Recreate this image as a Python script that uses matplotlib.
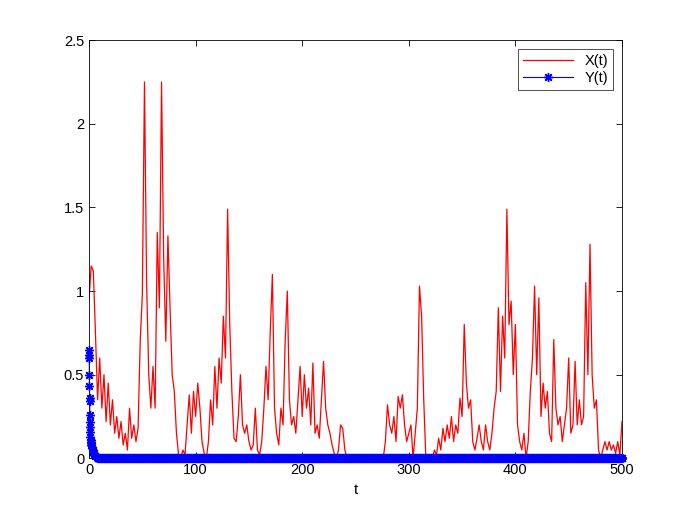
import numpy as np
import matplotlib
matplotlib.use("Agg")
import matplotlib.pyplot as plt

plt.rcParams['font.family'] = ['Liberation Sans', 'DejaVu Sans']

# X(t), one value every 2 time units (t = 0 .. 500)
x_step = 2
x_vals = [
    0.95, 1.15, 1.12, 0.75, 0.35, 0.60, 0.30, 0.50, 0.22, 0.45,
    0.20, 0.35, 0.15, 0.25, 0.12, 0.22, 0.08, 0.15, 0.05, 0.30,
    0.12, 0.20, 0.10, 0.18, 0.70, 0.98, 2.25, 1.05, 0.50, 0.30,
    0.55, 0.30, 1.35, 0.90, 2.25, 1.20, 0.70, 1.33, 0.90, 0.50,
    0.40, 0.15, 0.02, 0.00, 0.05, 0.02, 0.20, 0.38, 0.15, 0.40,
    0.25, 0.45, 0.30, 0.10, 0.03, 0.00, 0.10, 0.35, 0.20, 0.55,
    0.30, 0.60, 0.45, 0.85, 0.60, 1.49, 0.80, 0.40, 0.12, 0.10,
    0.25, 0.50, 0.20, 0.15, 0.20, 0.10, 0.05, 0.08, 0.30, 0.05,
    0.02, 0.10, 0.30, 0.55, 0.35, 0.76, 1.10, 0.30, 0.15, 0.08,
    0.30, 0.20, 0.70, 1.00, 0.35, 0.20, 0.25, 0.15, 0.35, 0.55,
    0.25, 0.50, 0.30, 0.42, 0.20, 0.57, 0.15, 0.20, 0.12, 0.35,
    0.58, 0.30, 0.20, 0.15, 0.08, 0.03, 0.00, 0.05, 0.20, 0.18,
    0.05, 0.00, 0.00, 0.00, 0.00, 0.00, 0.00, 0.00, 0.00, 0.00,
    0.00, 0.00, 0.00, 0.00, 0.00, 0.00, 0.00, 0.00, 0.00, 0.10,
    0.32, 0.20, 0.15, 0.25, 0.10, 0.37, 0.30, 0.38, 0.20, 0.10,
    0.15, 0.20, 0.00, 0.15, 0.30, 1.03, 0.85, 0.35, 0.00, 0.00,
    0.02, 0.00, 0.05, 0.02, 0.12, 0.05, 0.18, 0.10, 0.20, 0.12,
    0.25, 0.10, 0.20, 0.15, 0.36, 0.25, 0.80, 0.45, 0.30, 0.35,
    0.10, 0.05, 0.12, 0.20, 0.10, 0.05, 0.20, 0.10, 0.05, 0.15,
    0.30, 0.40, 0.90, 0.40, 0.85, 0.60, 1.49, 0.80, 0.94, 0.50,
    0.80, 0.20, 0.10, 0.05, 0.15, 0.00, 0.10, 0.40, 0.60, 1.03,
    0.50, 0.96, 0.25, 0.45, 0.30, 0.40, 0.15, 0.10, 0.71, 0.30,
    0.20, 0.25, 0.10, 0.20, 0.30, 0.60, 0.15, 0.20, 0.58, 0.20,
    0.35, 0.20, 0.25, 1.05, 0.50, 1.28, 0.50, 0.30, 0.35, 0.05,
    0.00, 0.05, 0.10, 0.05, 0.10, 0.05, 0.08, 0.03, 0.10, 0.02,
    0.22,
]
x_t = np.arange(len(x_vals)) * x_step

# Y(t): fast decay right after t = 0, then flat at zero
y_head_t = [0, 0.1, 0.2, 0.3, 0.4, 0.5, 0.6, 0.7, 0.8, 0.9, 1.0, 1.2, 1.4,
            1.6, 1.8, 2.0, 2.5, 3.0, 3.5, 4.0, 4.5, 5.0, 6.0, 7.0, 8.0]
y_head = [0.65, 0.62, 0.60, 0.50, 0.43, 0.36, 0.34, 0.26, 0.22, 0.19, 0.16,
          0.13, 0.11, 0.10, 0.09, 0.08, 0.07, 0.06, 0.05, 0.04, 0.03, 0.02,
          0.015, 0.01, 0.005]
y_tail_value = 0.0
y_tail_t = np.arange(8.2, 500.01, 0.2)
y_t = np.concatenate([y_head_t, y_tail_t])
y_vals = np.concatenate([y_head, np.full(len(y_tail_t), y_tail_value)])

yticks = [0, 0.5, 1, 1.5, 2, 2.5]
ytick_labels = ['0', '0.5', '1', '1.5', '2', '2.5']
xticks = [0, 100, 200, 300, 400, 500]

fig = plt.figure(figsize=(6.85, 5.15), dpi=100)
ax = fig.add_axes([0.13, 0.11, 0.778, 0.812])

# matlab style asterisk marker: 8 spokes
star = (8, 2, 0)

ax.plot(x_t, x_vals, color='red', lw=0.9, label='X(t)', zorder=2)
# the packed asterisks along zero merge into one solid band
n_head = len(y_head)
ax.plot(y_t[n_head - 1:], y_vals[n_head - 1:], color='blue', lw=6.2,
        solid_capstyle='butt', clip_on=False, zorder=3)
ax.plot(y_t, y_vals, color='blue', lw=0.8, marker=star, ms=6.5, mew=1.0,
        label='Y(t)', clip_on=False, zorder=3)

ax.set_xlim(0, 500)
ax.set_ylim(0, 2.5)
ax.set_xticks(xticks)
ax.set_yticks(yticks)
ax.set_yticklabels(ytick_labels)
ax.tick_params(direction='in', top=True, right=True, labelsize=10.5,
               length=4, width=0.6)
for s in ax.spines.values():
    s.set_linewidth(0.6)
ax.set_xlabel('t', fontsize=11)

leg = ax.legend(loc='upper right', numpoints=1, fancybox=False,
                edgecolor='black', fontsize=10.5, borderaxespad=0.6,
                handlelength=3.4, borderpad=0.35, labelspacing=0.2)
leg.get_frame().set_linewidth(0.6)

fig.savefig('out.png', dpi=100)
